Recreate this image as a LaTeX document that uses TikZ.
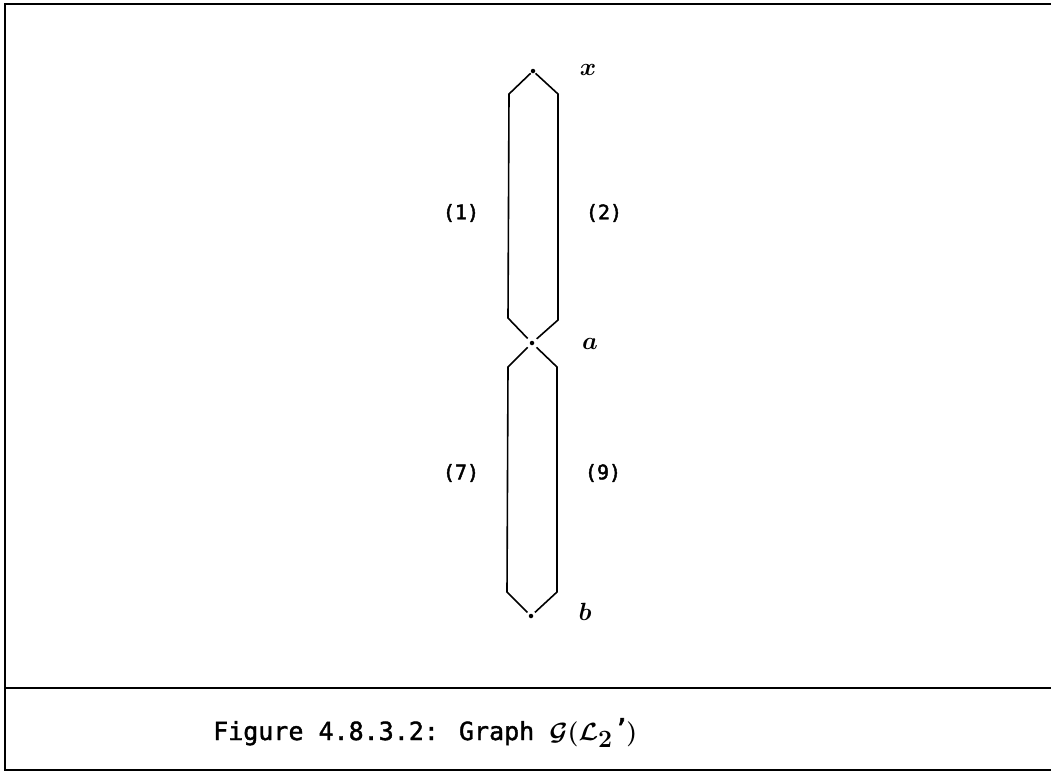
\documentclass[tikz,border=0pt]{standalone}
\usepackage{fontspec}
\usepackage{amsmath,amssymb,bm}
\usetikzlibrary{calc}
\newfontfamily\capfont[FakeBold=1.6]{DejaVu Sans Mono}
\newfontfamily\lblfont[FakeBold=2.2]{DejaVu Sans Mono}
\newfontfamily\primefont[FakeBold=2]{DejaVu Sans}
\begin{document}
\begin{tikzpicture}[x=1pt,y=-1pt,
  edge/.style={line width=1.6pt, black},
  frame/.style={line width=1.7pt, black},
  vtx/.style={circle, fill=black, inner sep=0pt, minimum size=4.5pt},
  vlabel/.style={font=\fontsize{28}{28}\selectfont, inner sep=0pt},
  elabel/.style={font=\lblfont\fontsize{20}{20}\selectfont, inner sep=0pt},
  caption/.style={font=\capfont\fontsize{25}{25}\selectfont, inner sep=0pt, anchor=base west}]
\useasboundingbox (0,0) rectangle (1051,772);
% frame
\draw[frame] (1051,4) -- (5,4) -- (5,770) -- (1051,770);
\draw[frame] (5,688) -- (1051,688);
% vertices
\node[vtx] (x) at (533,71) {};
\node[vtx] (a) at (532,343) {};
\node[vtx] (b) at (531,616) {};
% bend coordinates
\coordinate (u1t) at (509,94);
\coordinate (u1b) at (508,318);
\coordinate (u2t) at (558,94);
\coordinate (u2b) at (558,320);
\coordinate (l1t) at (508,367);
\coordinate (l1b) at (507,592);
\coordinate (l2t) at (557,367);
\coordinate (l2b) at (557,592);
% edges
\draw[edge] ($(x)!0.1!(u1t)$) -- (u1t) -- (u1b) -- ($(a)!0.18!(u1b)$);
\draw[edge] ($(x)!0.1!(u2t)$) -- (u2t) -- (u2b) -- ($(a)!0.18!(u2b)$);
\draw[edge] ($(a)!0.18!(l1t)$) -- (l1t) -- (l1b) -- ($(b)!0.15!(l1b)$);
\draw[edge] ($(a)!0.18!(l2t)$) -- (l2t) -- (l2b) -- ($(b)!0.15!(l2b)$);
% vertex labels
\node[vlabel] (lx) at (588,70) {$\bm{x}$};
\node[vlabel] (la) at (590,344) {$\bm{a}$};
\node[vlabel] (lb) at (585,612) {$\bm{b}$};
% edge labels
\node[elabel] (e1) at (461,213) {(1)};
\node[elabel] (e2) at (604,213) {(2)};
\node[elabel] (e7) at (461,473) {(7)};
\node[elabel] (e9) at (603,473) {(9)};
% caption
\node[caption] (cap) at (213,740) {Figure 4.8.3.2: Graph {\fontsize{36}{36}\selectfont$\bm{\mathcal{G}(\mathcal{L}_{2}}\,\text{\primefont\fontsize{30}{30}\selectfont ’}\bm{)}$}};
\end{tikzpicture}
\end{document}
